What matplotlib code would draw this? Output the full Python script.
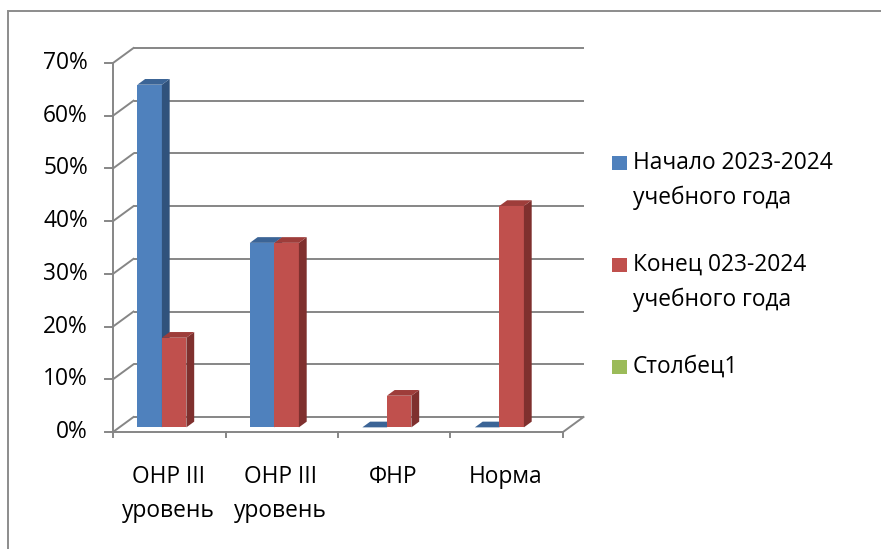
import matplotlib
matplotlib.use('Agg')
import matplotlib.pyplot as plt
from matplotlib.patches import Polygon, Rectangle

# ---- data ----
categories = ['ОНР III\nуровень', 'ОНР III\nуровень', 'ФНР', 'Норма']
series_names = ['Начало 2023-2024\nучебного года', 'Конец 023-2024\nучебного года', 'Столбец1']
start_vals = [65, 35, 0, 0]
end_vals = [17, 35, 6, 42]
y_ticks = [0, 10, 20, 30, 40, 50, 60, 70]
y_tick_labels = ['0%', '10%', '20%', '30%', '40%', '50%', '60%', '70%']

# ---- style ----
FONT = 'Open Sans'
FS = 16.4
plt.rcParams['font.family'] = [FONT, 'DejaVu Sans']
GRID = '#868686'
front_cols = ['#4F81BD', '#C0504D', '#9BBB59']
side_cols = ['#30527C', '#7F302E', '#6E8A3C']
top_cols = ['#3B6496', '#9E3D3A', '#84A24A']

W, H = 881, 549
X0, XS = 113.0, 112.5          # pixel of category 0 edge, pixels per category
Y0, YS = 432.0, 369.0 / 70.0   # pixel of 0% on front plane, pixels per percent
DX, DY = 20.5 / XS, 15.0 / YS  # floor depth in data units

fig = plt.figure(figsize=(W / 100, H / 100), dpi=100)
ax = fig.add_axes([0, 0, 1, 1])
ax.set_xlim(-X0 / XS, (W - X0) / XS)
ax.set_ylim((Y0 - H) / YS, Y0 / YS)
ax.axis('off')

def fx(px):
    return px / W
def fy(py):
    return 1 - py / H

# outer frame
fig.add_artist(Rectangle((fx(8), -0.1), 2, fy(11) + 0.1, transform=fig.transFigure,
                         fill=False, ec='#8C8C8C', lw=1.4))

n = len(categories)
lw = 1.4
# gridlines: back wall + side wall diagonals + tick marks
for t, lab in zip(y_ticks, y_tick_labels):
    ax.plot([DX, n + DX], [t + DY, t + DY], color=GRID, lw=lw, zorder=1, solid_capstyle='butt')
    ax.plot([0, DX], [t, t + DY], color=GRID, lw=lw, zorder=1)
    ax.plot([-0.07, 0], [t, t], color=GRID, lw=lw, zorder=1)
    ax.text(-25 / XS, t, lab, ha='right', va='center', fontsize=FS, color='black')
# vertical axis line
ax.plot([0, 0], [0, y_ticks[-1]], color=GRID, lw=lw, zorder=1)
# floor
ax.plot([0, n], [0, 0], color=GRID, lw=lw, zorder=1)
ax.plot([n, n + DX], [0, DY], color=GRID, lw=lw, zorder=1)
for i in range(n + 1):
    ax.plot([i, i], [0, -5 / YS], color=GRID, lw=lw, zorder=1)

# category labels
for i, c in enumerate(categories):
    ax.text(i + 0.49, -33 / YS, c, ha='center', va='top', fontsize=FS,
            linespacing=1.55, color='black')

# bars (3D-style)
z0, z1 = 0.31, 0.69
bw = 0.218
off = 0.16
series_vals = [start_vals, end_vals]
for i in range(n):
    for s, vals in enumerate(series_vals):
        v = vals[i]
        xl = i + off + s * bw
        xr = xl + bw
        a0x, a0y = z0 * DX, z0 * DY
        a1x, a1y = z1 * DX, z1 * DY
        if v > 0:
            ax.add_patch(Polygon([(xl + a0x, a0y), (xr + a0x, a0y), (xr + a0x, v + a0y), (xl + a0x, v + a0y)],
                                 closed=True, fc=front_cols[s], ec='none', zorder=3))
            ax.add_patch(Polygon([(xr + a0x, a0y), (xr + a1x, a1y), (xr + a1x, v + a1y), (xr + a0x, v + a0y)],
                                 closed=True, fc=side_cols[s], ec='none', zorder=3))
        ax.add_patch(Polygon([(xl + a0x, v + a0y), (xr + a0x, v + a0y), (xr + a1x, v + a1y), (xl + a1x, v + a1y)],
                             closed=True, fc=top_cols[s], ec='none', zorder=3))

# legend (manual, squares aligned to first text line)
leg_y = [163, 265, 367]
for k, (name, col) in enumerate(zip(series_names, front_cols)):
    y = leg_y[k]
    fig.add_artist(Rectangle((fx(612), fy(y + 7)), 15 / W, 14 / H, transform=fig.transFigure,
                             fc=col, ec='none'))
    fig.text(fx(633), fy(y - 12), name, ha='left', va='top', fontsize=FS,
             linespacing=1.6, color='black')

fig.savefig('out.png', dpi=100)
